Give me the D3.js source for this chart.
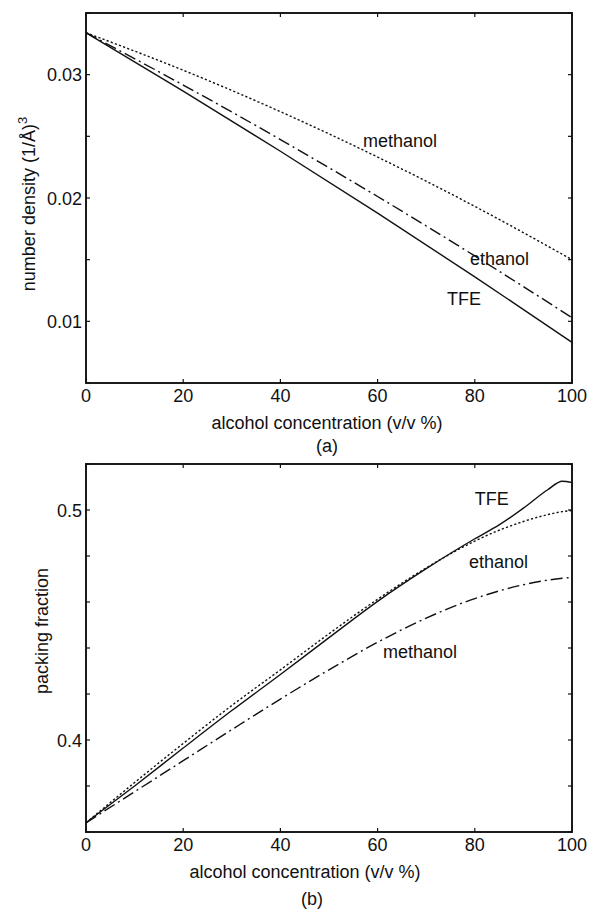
<!DOCTYPE html>
<html>
<head>
<meta charset="utf-8">
<script src="https://cdn.jsdelivr.net/npm/d3@7"></script>
<style>
  body { margin: 0; background: #fff; }
  text { font-family: "Liberation Sans", Arial, sans-serif; fill: #111; }
</style>
</head>
<body>
<svg id="chart" width="593" height="911"></svg>
<script>
// alcohol concentration (v/v %)
var conc = [0, 20, 40, 60, 80, 100];
var concB = [0, 10, 20, 30, 40, 50, 60, 70, 80, 85, 90, 95, 98, 100];

// (a) number density, 1/A^3
var densMethanol = [0.0334, 0.03036, 0.0270, 0.02332, 0.01932, 0.0150];
var densEthanol  = [0.0334, 0.02916, 0.02474, 0.02012, 0.0153, 0.0103];
var densTFE      = [0.0334, 0.02867, 0.02379, 0.01877, 0.01361, 0.0083];

// (b) packing fraction
var packTFE      = [0.364, 0.380, 0.3965, 0.4128, 0.4285, 0.4445, 0.4603, 0.4745, 0.4875, 0.4935, 0.5008, 0.5088, 0.5125, 0.512];
var packEthanol  = [0.364, 0.3815, 0.3985, 0.415, 0.4305, 0.4462, 0.4612, 0.4748, 0.4865, 0.4912, 0.4950, 0.4980, 0.4993, 0.4998];
var packMethanol = [0.364, 0.3775, 0.391, 0.4045, 0.4178, 0.4305, 0.4425, 0.4530, 0.4615, 0.4648, 0.4675, 0.4695, 0.4703, 0.4707];

var xTicks = [0, 20, 40, 60, 80, 100];
var yTicksA = [0.005, 0.01, 0.015, 0.02, 0.025, 0.03, 0.035];
var yLabelsA = [0.01, 0.02, 0.03];
var yTicksB = [0.36, 0.38, 0.40, 0.42, 0.44, 0.46, 0.48, 0.50, 0.52];
var yLabelsB = [0.4, 0.5];

var svg = d3.select("#chart");
svg.append("rect").attr("width", 593).attr("height", 911).attr("fill", "#fff");

var dotted = "2.2,2.2";
var dashDot = "12,4,2,4";

function drawPanel(cfg) {
  var x = d3.scaleLinear().domain([0, 100]).range([cfg.left, cfg.right]);
  var y = d3.scaleLinear().domain(cfg.yDomain).range([cfg.bottom, cfg.top]);
  var g = svg.append("g");

  // series
  cfg.series.forEach(function(s) {
    var pts = cfg.xs.map(function(c, i) { return [c, s.values[i]]; });
    var line = d3.line()
      .x(function(d) { return x(d[0]); })
      .y(function(d) { return y(d[1]); })
      .curve(d3.curveMonotoneX);
    g.append("path")
      .attr("d", line(pts))
      .attr("fill", "none")
      .attr("stroke", "#111")
      .attr("stroke-width", 1.4)
      .attr("stroke-dasharray", s.dash || null);
  });

  // ticks inward, all four sides
  var tl = 4;
  xTicks.forEach(function(t) {
    g.append("line").attr("x1", x(t)).attr("x2", x(t))
      .attr("y1", cfg.bottom).attr("y2", cfg.bottom - tl).attr("stroke", "#111").attr("stroke-width", 1.2);
    g.append("line").attr("x1", x(t)).attr("x2", x(t))
      .attr("y1", cfg.top).attr("y2", cfg.top + tl).attr("stroke", "#111").attr("stroke-width", 1.2);
    g.append("text").attr("x", x(t)).attr("y", cfg.bottom + 19)
      .attr("text-anchor", "middle").attr("font-size", 18).text(t);
  });
  cfg.yTicks.forEach(function(t) {
    g.append("line").attr("x1", cfg.left).attr("x2", cfg.left + tl)
      .attr("y1", y(t)).attr("y2", y(t)).attr("stroke", "#111").attr("stroke-width", 1.2);
    g.append("line").attr("x1", cfg.right).attr("x2", cfg.right - tl)
      .attr("y1", y(t)).attr("y2", y(t)).attr("stroke", "#111").attr("stroke-width", 1.2);
  });
  cfg.yLabels.forEach(function(t) {
    g.append("text").attr("x", cfg.left - 4).attr("y", y(t) + 6.5)
      .attr("text-anchor", "end").attr("font-size", 18).text(cfg.fmt(t));
  });

  // frame
  g.append("rect")
    .attr("x", cfg.left).attr("y", cfg.top)
    .attr("width", cfg.right - cfg.left).attr("height", cfg.bottom - cfg.top)
    .attr("fill", "none").attr("stroke", "#111").attr("stroke-width", 1.9);

  // curve labels
  cfg.labels.forEach(function(l) {
    g.append("text").attr("x", x(l.x)).attr("y", y(l.y))
      .attr("font-size", 18).text(l.text);
  });

  // x title and panel letter
  g.append("text").attr("x", cfg.xTitleX).attr("y", cfg.bottom + 46)
    .attr("text-anchor", "middle").attr("font-size", 18)
    .text("alcohol concentration (v/v %)");
  g.append("text").attr("x", cfg.tagX).attr("y", cfg.tagY)
    .attr("text-anchor", "middle").attr("font-size", 18).text(cfg.tag);

  return g;
}

var gA = drawPanel({
  left: 86, right: 572, top: 13, bottom: 383,
  yDomain: [0.005, 0.035],
  yTicks: yTicksA, yLabels: yLabelsA,
  fmt: function(v) { return v.toFixed(2); },
  xs: conc,
  series: [
    { values: densMethanol, dash: dotted },
    { values: densEthanol, dash: dashDot },
    { values: densTFE }
  ],
  labels: [
    { text: "methanol", x: 57.0, y: 0.02415 },
    { text: "ethanol", x: 79.0, y: 0.01455 },
    { text: "TFE", x: 74.3, y: 0.0113 }
  ],
  xTitleX: 327, tag: "(a)", tagX: 327, tagY: 452
});

var titleA = gA.append("text")
  .attr("transform", "translate(35,204) rotate(-90)")
  .attr("text-anchor", "middle").attr("font-size", 18);
titleA.append("tspan").text("number density (1/Å)");
titleA.append("tspan").attr("dy", -8).attr("font-size", 13).text("3");

var gB = drawPanel({
  left: 86, right: 572, top: 464, bottom: 832,
  yDomain: [0.36, 0.52],
  yTicks: yTicksB, yLabels: yLabelsB,
  fmt: function(v) { return String(v); },
  xs: concB,
  series: [
    { values: packTFE },
    { values: packEthanol, dash: dotted },
    { values: packMethanol, dash: dashDot }
  ],
  labels: [
    { text: "TFE", x: 80.0, y: 0.5022 },
    { text: "ethanol", x: 78.8, y: 0.4747 },
    { text: "methanol", x: 61.1, y: 0.4358 }
  ],
  xTitleX: 305, tag: "(b)", tagX: 312, tagY: 905
});

gB.append("text")
  .attr("transform", "translate(48,631) rotate(-90)")
  .attr("text-anchor", "middle").attr("font-size", 18)
  .text("packing fraction");
</script>
</body>
</html>
